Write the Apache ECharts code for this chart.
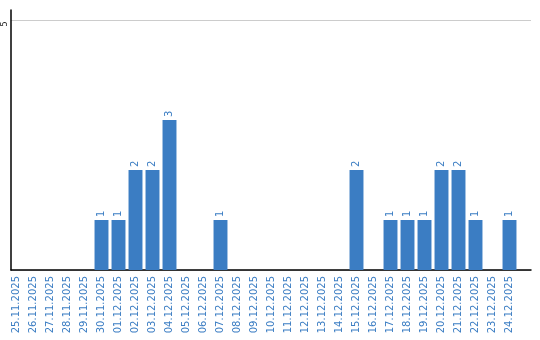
<!DOCTYPE html>
<html><head><meta charset="utf-8">
<script src="https://cdn.jsdelivr.net/npm/echarts@6/dist/echarts.min.js"></script>
<style>html,body{margin:0;padding:0;background:#fff}#c{width:540px;height:340px}</style>
</head><body><div id="c"></div>
<script>
var categories = ['25.11.2025','26.11.2025','27.11.2025','28.11.2025','29.11.2025','30.11.2025','01.12.2025','02.12.2025','03.12.2025','04.12.2025','05.12.2025','06.12.2025','07.12.2025','08.12.2025','09.12.2025','10.12.2025','11.12.2025','12.12.2025','13.12.2025','14.12.2025','15.12.2025','16.12.2025','17.12.2025','18.12.2025','19.12.2025','20.12.2025','21.12.2025','22.12.2025','23.12.2025','24.12.2025'];
var counts = [0,0,0,0,0,1,1,2,2,3,0,0,1,0,0,0,0,0,0,0,2,0,1,1,1,2,2,1,0,1];
var yMax = 5;
var yTicks = [5];

var blue = '#3b7dc3';
var font = 'DejaVu Sans';
var chart = echarts.init(document.getElementById('c'), null, {renderer:'canvas'});
chart.setOption({
  animation: false,
  grid: [
    {left: 11, right: 9, top: 20, bottom: 70},
    {left: 11, right: 9, top: 10, bottom: 70},
    {left: 8, right: 22, top: 20, bottom: 70}
  ],
  xAxis: [
    {gridIndex: 0, type: 'value', min: 0, max: 1, axisLine: {show: true, onZero: false, lineStyle: {color: '#000', width: 1.5}}, axisTick: {show: false}, axisLabel: {show: false}, splitLine: {show: false}},
    {gridIndex: 1, type: 'value', min: 0, max: 1, show: false},
    {gridIndex: 2, type: 'category', data: categories, axisLine: {show: false}, axisTick: {show: false}, splitLine: {show: false},
      axisLabel: {interval: 0, rotate: 90, margin: 6, color: blue, fontFamily: font, fontSize: 10}}
  ],
  yAxis: [
    {gridIndex: 0, type: 'value', min: 0, max: yMax, interval: 5, axisLine: {show: false}, axisTick: {show: false},
      splitLine: {show: true, lineStyle: {color: '#cccccc', width: 1}},
      axisLabel: {show: true, rotate: 90, margin: 2, align: 'center', verticalAlign: 'bottom', padding: [0, 8, 0, 0], fontSize: 8, color: '#222', fontFamily: font,
        formatter: function(v){ return yTicks.indexOf(v) >= 0 ? String(v) : ''; }}},
    {gridIndex: 1, type: 'value', min: 0, max: 1, axisLine: {show: true, lineStyle: {color: '#000', width: 1.5}}, axisTick: {show: false}, axisLabel: {show: false}, splitLine: {show: false}},
    {gridIndex: 2, type: 'value', min: 0, max: yMax, show: false}
  ],
  series: [{
    type: 'bar', xAxisIndex: 2, yAxisIndex: 2, data: counts,
    barCategoryGap: '18%',
    itemStyle: {color: blue},
    label: {show: true, position: 'top', rotate: 90, align: 'left', verticalAlign: 'middle', distance: 3,
      color: blue, fontFamily: font, fontSize: 10,
      formatter: function(p){ return p.value ? String(p.value) : ''; }}
  }]
});
</script>
</body></html>
